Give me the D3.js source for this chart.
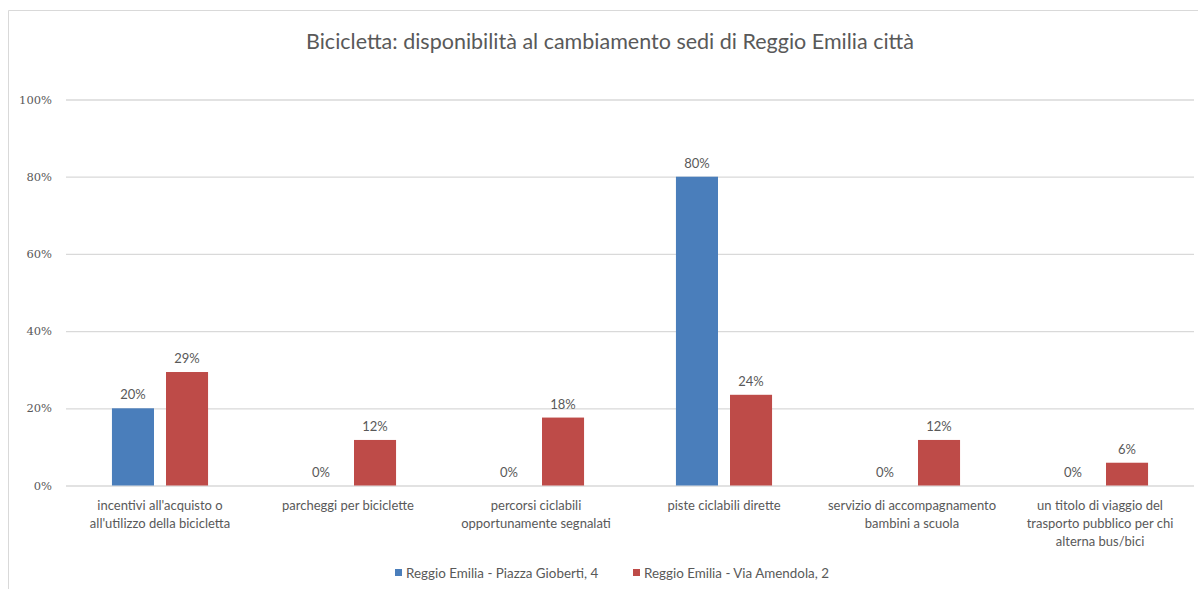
<!DOCTYPE html>
<html>
<head>
<meta charset="utf-8">
<script src="https://cdn.jsdelivr.net/npm/d3@7"></script>
<style>
  body { margin: 0; background: #fff; }
  text { font-family: Lato, "Open Sans", sans-serif; fill: #595959; }
</style>
</head>
<body>
<svg width="1198" height="589"></svg>
<script>
// chart data
var categories = [
  ["incentivi all'acquisto o", "all'utilizzo della bicicletta"],
  ["parcheggi per biciclette"],
  ["percorsi ciclabili", "opportunamente segnalati"],
  ["piste ciclabili dirette"],
  ["servizio di accompagnamento", "bambini a scuola"],
  ["un titolo di viaggio del", "trasporto pubblico per chi", "alterna bus/bici"]
];
var seriesNames = ["Reggio Emilia - Piazza Gioberti, 4", "Reggio Emilia - Via Amendola, 2"];
var gioberti = [20, 0, 0, 80, 0, 0];
var amendola = [29.4, 11.8, 17.6, 23.5, 11.8, 5.9];
var yTicks = [0, 20, 40, 60, 80, 100];
var colors = ["#4a7ebb", "#be4b48"];

var svg = d3.select('svg');

// frame of the chart area
svg.append('path')
  .attr('d', 'M8.5,589 V10.5 H1198')
  .attr('fill', 'none')
  .attr('stroke', '#d9d9d9');

svg.append('text')
  .attr('x', 610).attr('y', 49)
  .attr('text-anchor', 'middle')
  .style('font-size', '21.5px')
  .text('Bicicletta: disponibilità al cambiamento sedi di Reggio Emilia città');

var plotLeft = 66, plotRight = 1194, plotTop = 99.5, plotBottom = 485.5;

var x = d3.scaleBand()
  .domain(d3.range(categories.length))
  .range([plotLeft, plotRight]);

// two bars per category, ~42px wide with a ~12px gap
var xInner = d3.scaleBand()
  .domain([0, 1])
  .range([0, x.bandwidth()])
  .paddingInner(0.222)
  .paddingOuter(0.85);

var y = d3.scaleLinear()
  .domain([0, 100])
  .range([plotBottom, plotTop]);

// gridlines + tick labels
var yAxis = d3.axisLeft(y)
  .tickValues(yTicks)
  .tickSize(-(plotRight - plotLeft))
  .tickPadding(14)
  .tickFormat(function(d) { return d + '%'; });

var gy = svg.append('g')
  .attr('transform', 'translate(' + plotLeft + ',0)')
  .call(yAxis);
gy.select('.domain').remove();
gy.selectAll('.tick line').attr('stroke', '#d9d9d9').attr('stroke-width', 1.3);
gy.selectAll('.tick text')
  .style('font-size', '11.5px')
  .style('font-family', '"DejaVu Serif", serif')
  .attr('fill', '#6a6a6a');

var series = [gioberti, amendola];
var groups = svg.selectAll('g.cat')
  .data(categories)
  .enter()
  .append('g')
  .attr('class', 'cat')
  .attr('transform', function(d, i) { return 'translate(' + x(i) + ',0)'; });

series.forEach(function(vals, s) {
  groups.append('rect')
    .attr('x', xInner(s))
    .attr('width', xInner.bandwidth())
    .attr('y', function(d, i) { return y(vals[i]); })
    .attr('height', function(d, i) { return plotBottom - y(vals[i]); })
    .attr('fill', colors[s]);

  groups.append('text')
    .attr('x', xInner(s) + xInner.bandwidth() / 2)
    .attr('y', function(d, i) { return y(vals[i]) - 9; })
    .attr('text-anchor', 'middle')
    .style('font-size', '13px')
    .text(function(d, i) { return Math.round(vals[i]) + '%'; });
});

// category labels
groups.append('text')
  .attr('text-anchor', 'middle')
  .style('font-size', '13px')
  .attr('x', x.bandwidth() / 2)
  .attr('y', plotBottom + 24)
  .selectAll('tspan')
  .data(function(d) { return d; })
  .enter()
  .append('tspan')
  .attr('x', x.bandwidth() / 2)
  .attr('dy', function(d, i) { return i === 0 ? 0 : 18; })
  .text(function(d) { return d; });

// legend
var legendX = [395, 633];
var legend = svg.selectAll('g.legend')
  .data(seriesNames)
  .enter()
  .append('g')
  .attr('class', 'legend')
  .attr('transform', function(d, i) { return 'translate(' + legendX[i] + ',573)'; });
legend.append('rect')
  .attr('x', 0).attr('y', -4)
  .attr('width', 7).attr('height', 7)
  .attr('fill', function(d, i) { return colors[i]; });
legend.append('text')
  .attr('x', 11).attr('y', 4.5)
  .style('font-size', '13.4px')
  .text(function(d) { return d; });
</script>
</body>
</html>
